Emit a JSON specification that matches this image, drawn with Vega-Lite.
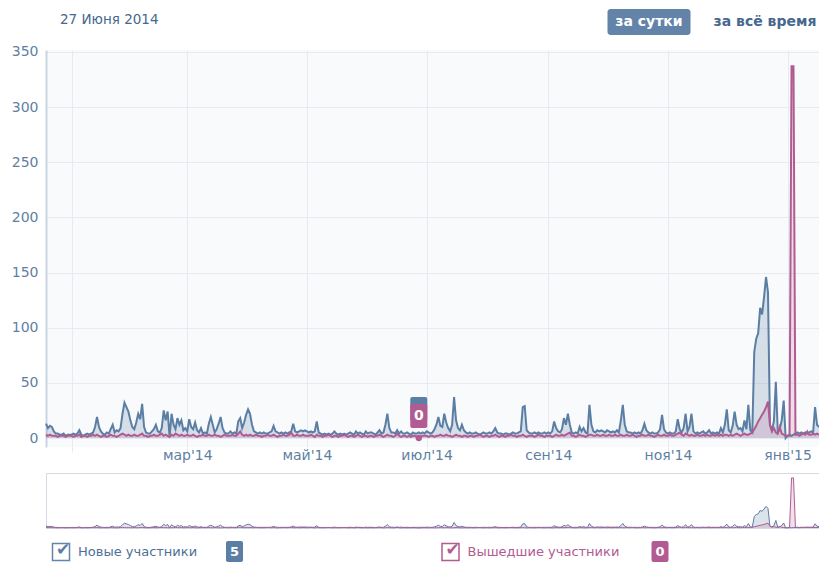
{
"$schema":"https://vega.github.io/schema/vega-lite/v6.json",
"padding":0,
"background":"white",
"spacing":26,
"bounds":"flush",
"config":{"font":"DejaVu Sans","view":{"stroke":null}},
"datasets":{
"daily":[
{"d":"2013-12-19","n":13,"o":3},{"d":"2013-12-20","n":9,"o":2},{"d":"2013-12-21","n":11,"o":3},{"d":"2013-12-22","n":10,"o":2},{"d":"2013-12-23","n":6,"o":2},{"d":"2013-12-24","n":4,"o":2},{"d":"2013-12-25","n":4,"o":1},{"d":"2013-12-26","n":3,"o":2},{"d":"2013-12-27","n":3,"o":2},{"d":"2013-12-28","n":4,"o":2},{"d":"2013-12-29","n":2,"o":1},{"d":"2013-12-30","n":3,"o":2},{"d":"2013-12-31","n":3,"o":2},
{"d":"2014-01-01","n":3,"o":2},{"d":"2014-01-02","n":4,"o":1},{"d":"2014-01-03","n":3,"o":2},{"d":"2014-01-04","n":4,"o":2},{"d":"2014-01-05","n":7,"o":3},{"d":"2014-01-06","n":3,"o":1},{"d":"2014-01-07","n":2,"o":2},{"d":"2014-01-08","n":3,"o":2},{"d":"2014-01-09","n":4,"o":1},{"d":"2014-01-10","n":3,"o":2},{"d":"2014-01-11","n":4,"o":2},{"d":"2014-01-12","n":5,"o":3},{"d":"2014-01-13","n":10,"o":2},{"d":"2014-01-14","n":19,"o":3},{"d":"2014-01-15","n":10,"o":2},{"d":"2014-01-16","n":6,"o":1},{"d":"2014-01-17","n":4,"o":2},{"d":"2014-01-18","n":3,"o":2},{"d":"2014-01-19","n":5,"o":1},{"d":"2014-01-20","n":4,"o":2},{"d":"2014-01-21","n":8,"o":3},{"d":"2014-01-22","n":12,"o":2},{"d":"2014-01-23","n":5,"o":2},{"d":"2014-01-24","n":7,"o":1},{"d":"2014-01-25","n":6,"o":2},{"d":"2014-01-26","n":9,"o":3},{"d":"2014-01-27","n":22,"o":4},{"d":"2014-01-28","n":32,"o":3},{"d":"2014-01-29","n":28,"o":2},{"d":"2014-01-30","n":24,"o":3},{"d":"2014-01-31","n":16,"o":2},
{"d":"2014-02-01","n":10,"o":2},{"d":"2014-02-02","n":8,"o":3},{"d":"2014-02-03","n":14,"o":2},{"d":"2014-02-04","n":22,"o":2},{"d":"2014-02-05","n":17,"o":3},{"d":"2014-02-06","n":31,"o":4},{"d":"2014-02-07","n":10,"o":2},{"d":"2014-02-08","n":5,"o":2},{"d":"2014-02-09","n":4,"o":1},{"d":"2014-02-10","n":4,"o":2},{"d":"2014-02-11","n":6,"o":2},{"d":"2014-02-12","n":8,"o":3},{"d":"2014-02-13","n":12,"o":2},{"d":"2014-02-14","n":6,"o":2},{"d":"2014-02-15","n":5,"o":3},{"d":"2014-02-16","n":9,"o":4},{"d":"2014-02-17","n":25,"o":2},{"d":"2014-02-18","n":16,"o":3},{"d":"2014-02-19","n":24,"o":2},{"d":"2014-02-20","n":1,"o":1},{"d":"2014-02-21","n":22,"o":3},{"d":"2014-02-22","n":12,"o":2},{"d":"2014-02-23","n":8,"o":4},{"d":"2014-02-24","n":18,"o":3},{"d":"2014-02-25","n":12,"o":2},{"d":"2014-02-26","n":16,"o":3},{"d":"2014-02-27","n":7,"o":2},{"d":"2014-02-28","n":9,"o":2},
{"d":"2014-03-01","n":6,"o":3},{"d":"2014-03-02","n":17,"o":2},{"d":"2014-03-03","n":10,"o":2},{"d":"2014-03-04","n":8,"o":3},{"d":"2014-03-05","n":14,"o":2},{"d":"2014-03-06","n":7,"o":1},{"d":"2014-03-07","n":5,"o":2},{"d":"2014-03-08","n":9,"o":2},{"d":"2014-03-09","n":4,"o":3},{"d":"2014-03-10","n":5,"o":2},{"d":"2014-03-11","n":4,"o":2},{"d":"2014-03-12","n":13,"o":3},{"d":"2014-03-13","n":19,"o":2},{"d":"2014-03-14","n":12,"o":2},{"d":"2014-03-15","n":5,"o":3},{"d":"2014-03-16","n":8,"o":2},{"d":"2014-03-17","n":13,"o":2},{"d":"2014-03-18","n":19,"o":1},{"d":"2014-03-19","n":9,"o":2},{"d":"2014-03-20","n":5,"o":3},{"d":"2014-03-21","n":4,"o":2},{"d":"2014-03-22","n":4,"o":2},{"d":"2014-03-23","n":6,"o":2},{"d":"2014-03-24","n":4,"o":3},{"d":"2014-03-25","n":5,"o":2},{"d":"2014-03-26","n":4,"o":2},{"d":"2014-03-27","n":15,"o":4},{"d":"2014-03-28","n":18,"o":6},{"d":"2014-03-29","n":9,"o":3},{"d":"2014-03-30","n":14,"o":2},{"d":"2014-03-31","n":21,"o":3},
{"d":"2014-04-01","n":26,"o":2},{"d":"2014-04-02","n":22,"o":3},{"d":"2014-04-03","n":12,"o":2},{"d":"2014-04-04","n":6,"o":2},{"d":"2014-04-05","n":5,"o":3},{"d":"2014-04-06","n":4,"o":2},{"d":"2014-04-07","n":5,"o":2},{"d":"2014-04-08","n":4,"o":1},{"d":"2014-04-09","n":5,"o":2},{"d":"2014-04-10","n":4,"o":2},{"d":"2014-04-11","n":4,"o":3},{"d":"2014-04-12","n":5,"o":2},{"d":"2014-04-13","n":6,"o":2},{"d":"2014-04-14","n":11,"o":3},{"d":"2014-04-15","n":6,"o":2},{"d":"2014-04-16","n":5,"o":1},{"d":"2014-04-17","n":4,"o":2},{"d":"2014-04-18","n":5,"o":2},{"d":"2014-04-19","n":4,"o":3},{"d":"2014-04-20","n":5,"o":2},{"d":"2014-04-21","n":4,"o":2},{"d":"2014-04-22","n":5,"o":3},{"d":"2014-04-23","n":6,"o":5},{"d":"2014-04-24","n":13,"o":2},{"d":"2014-04-25","n":6,"o":2},{"d":"2014-04-26","n":5,"o":3},{"d":"2014-04-27","n":6,"o":2},{"d":"2014-04-28","n":7,"o":2},{"d":"2014-04-29","n":6,"o":3},{"d":"2014-04-30","n":7,"o":2},
{"d":"2014-05-01","n":6,"o":2},{"d":"2014-05-02","n":5,"o":2},{"d":"2014-05-03","n":6,"o":3},{"d":"2014-05-04","n":5,"o":2},{"d":"2014-05-05","n":6,"o":1},{"d":"2014-05-06","n":15,"o":3},{"d":"2014-05-07","n":5,"o":2},{"d":"2014-05-08","n":4,"o":2},{"d":"2014-05-09","n":3,"o":1},{"d":"2014-05-10","n":4,"o":2},{"d":"2014-05-11","n":3,"o":2},{"d":"2014-05-12","n":4,"o":3},{"d":"2014-05-13","n":3,"o":2},{"d":"2014-05-14","n":4,"o":1},{"d":"2014-05-15","n":6,"o":2},{"d":"2014-05-16","n":4,"o":2},{"d":"2014-05-17","n":3,"o":1},{"d":"2014-05-18","n":4,"o":2},{"d":"2014-05-19","n":3,"o":2},{"d":"2014-05-20","n":4,"o":3},{"d":"2014-05-21","n":3,"o":2},{"d":"2014-05-22","n":4,"o":1},{"d":"2014-05-23","n":5,"o":2},{"d":"2014-05-24","n":4,"o":2},{"d":"2014-05-25","n":3,"o":1},{"d":"2014-05-26","n":6,"o":2},{"d":"2014-05-27","n":4,"o":3},{"d":"2014-05-28","n":5,"o":2},{"d":"2014-05-29","n":4,"o":1},{"d":"2014-05-30","n":3,"o":2},{"d":"2014-05-31","n":6,"o":2},
{"d":"2014-06-01","n":4,"o":1},{"d":"2014-06-02","n":5,"o":2},{"d":"2014-06-03","n":5,"o":2},{"d":"2014-06-04","n":4,"o":1},{"d":"2014-06-05","n":3,"o":2},{"d":"2014-06-06","n":5,"o":2},{"d":"2014-06-07","n":7,"o":3},{"d":"2014-06-08","n":4,"o":2},{"d":"2014-06-09","n":5,"o":1},{"d":"2014-06-10","n":12,"o":2},{"d":"2014-06-11","n":22,"o":3},{"d":"2014-06-12","n":9,"o":2},{"d":"2014-06-13","n":5,"o":2},{"d":"2014-06-14","n":5,"o":1},{"d":"2014-06-15","n":4,"o":2},{"d":"2014-06-16","n":7,"o":4},{"d":"2014-06-17","n":4,"o":2},{"d":"2014-06-18","n":6,"o":1},{"d":"2014-06-19","n":4,"o":2},{"d":"2014-06-20","n":4,"o":2},{"d":"2014-06-21","n":5,"o":1},{"d":"2014-06-22","n":4,"o":2},{"d":"2014-06-23","n":3,"o":1},{"d":"2014-06-24","n":5,"o":2},{"d":"2014-06-25","n":4,"o":2},{"d":"2014-06-26","n":4,"o":1},{"d":"2014-06-27","n":5,"o":0},{"d":"2014-06-28","n":4,"o":1},{"d":"2014-06-29","n":5,"o":2},{"d":"2014-06-30","n":4,"o":2},
{"d":"2014-07-01","n":6,"o":2},{"d":"2014-07-02","n":5,"o":1},{"d":"2014-07-03","n":4,"o":2},{"d":"2014-07-04","n":5,"o":2},{"d":"2014-07-05","n":8,"o":1},{"d":"2014-07-06","n":12,"o":2},{"d":"2014-07-07","n":19,"o":2},{"d":"2014-07-08","n":11,"o":3},{"d":"2014-07-09","n":10,"o":2},{"d":"2014-07-10","n":22,"o":2},{"d":"2014-07-11","n":14,"o":3},{"d":"2014-07-12","n":9,"o":2},{"d":"2014-07-13","n":6,"o":2},{"d":"2014-07-14","n":12,"o":1},{"d":"2014-07-15","n":37,"o":2},{"d":"2014-07-16","n":16,"o":3},{"d":"2014-07-17","n":9,"o":2},{"d":"2014-07-18","n":7,"o":2},{"d":"2014-07-19","n":12,"o":1},{"d":"2014-07-20","n":7,"o":2},{"d":"2014-07-21","n":5,"o":2},{"d":"2014-07-22","n":4,"o":1},{"d":"2014-07-23","n":5,"o":2},{"d":"2014-07-24","n":4,"o":2},{"d":"2014-07-25","n":4,"o":1},{"d":"2014-07-26","n":5,"o":2},{"d":"2014-07-27","n":4,"o":2},{"d":"2014-07-28","n":3,"o":3},{"d":"2014-07-29","n":4,"o":2},{"d":"2014-07-30","n":5,"o":1},{"d":"2014-07-31","n":4,"o":2},
{"d":"2014-08-01","n":4,"o":2},{"d":"2014-08-02","n":5,"o":1},{"d":"2014-08-03","n":4,"o":2},{"d":"2014-08-04","n":6,"o":2},{"d":"2014-08-05","n":9,"o":3},{"d":"2014-08-06","n":5,"o":2},{"d":"2014-08-07","n":4,"o":1},{"d":"2014-08-08","n":4,"o":2},{"d":"2014-08-09","n":3,"o":2},{"d":"2014-08-10","n":4,"o":1},{"d":"2014-08-11","n":4,"o":2},{"d":"2014-08-12","n":3,"o":2},{"d":"2014-08-13","n":4,"o":3},{"d":"2014-08-14","n":5,"o":2},{"d":"2014-08-15","n":4,"o":2},{"d":"2014-08-16","n":4,"o":1},{"d":"2014-08-17","n":5,"o":2},{"d":"2014-08-18","n":6,"o":2},{"d":"2014-08-19","n":28,"o":3},{"d":"2014-08-20","n":29,"o":2},{"d":"2014-08-21","n":7,"o":1},{"d":"2014-08-22","n":5,"o":2},{"d":"2014-08-23","n":4,"o":2},{"d":"2014-08-24","n":4,"o":2},{"d":"2014-08-25","n":5,"o":1},{"d":"2014-08-26","n":4,"o":2},{"d":"2014-08-27","n":5,"o":3},{"d":"2014-08-28","n":4,"o":2},{"d":"2014-08-29","n":4,"o":2},{"d":"2014-08-30","n":5,"o":1},{"d":"2014-08-31","n":4,"o":2},
{"d":"2014-09-01","n":5,"o":2},{"d":"2014-09-02","n":4,"o":2},{"d":"2014-09-03","n":6,"o":1},{"d":"2014-09-04","n":15,"o":2},{"d":"2014-09-05","n":9,"o":3},{"d":"2014-09-06","n":6,"o":2},{"d":"2014-09-07","n":5,"o":2},{"d":"2014-09-08","n":8,"o":3},{"d":"2014-09-09","n":18,"o":2},{"d":"2014-09-10","n":12,"o":3},{"d":"2014-09-11","n":22,"o":4},{"d":"2014-09-12","n":12,"o":5},{"d":"2014-09-13","n":5,"o":2},{"d":"2014-09-14","n":4,"o":2},{"d":"2014-09-15","n":5,"o":1},{"d":"2014-09-16","n":4,"o":2},{"d":"2014-09-17","n":10,"o":3},{"d":"2014-09-18","n":6,"o":2},{"d":"2014-09-19","n":9,"o":2},{"d":"2014-09-20","n":5,"o":1},{"d":"2014-09-21","n":4,"o":2},{"d":"2014-09-22","n":30,"o":3},{"d":"2014-09-23","n":12,"o":3},{"d":"2014-09-24","n":6,"o":2},{"d":"2014-09-25","n":5,"o":2},{"d":"2014-09-26","n":7,"o":3},{"d":"2014-09-27","n":6,"o":2},{"d":"2014-09-28","n":7,"o":2},{"d":"2014-09-29","n":6,"o":3},{"d":"2014-09-30","n":5,"o":2},
{"d":"2014-10-01","n":7,"o":2},{"d":"2014-10-02","n":6,"o":3},{"d":"2014-10-03","n":5,"o":2},{"d":"2014-10-04","n":6,"o":2},{"d":"2014-10-05","n":5,"o":3},{"d":"2014-10-06","n":7,"o":2},{"d":"2014-10-07","n":5,"o":2},{"d":"2014-10-08","n":16,"o":3},{"d":"2014-10-09","n":30,"o":2},{"d":"2014-10-10","n":12,"o":2},{"d":"2014-10-11","n":6,"o":3},{"d":"2014-10-12","n":5,"o":2},{"d":"2014-10-13","n":5,"o":2},{"d":"2014-10-14","n":4,"o":3},{"d":"2014-10-15","n":5,"o":2},{"d":"2014-10-16","n":4,"o":1},{"d":"2014-10-17","n":5,"o":2},{"d":"2014-10-18","n":4,"o":2},{"d":"2014-10-19","n":7,"o":3},{"d":"2014-10-20","n":13,"o":2},{"d":"2014-10-21","n":7,"o":2},{"d":"2014-10-22","n":5,"o":3},{"d":"2014-10-23","n":4,"o":2},{"d":"2014-10-24","n":5,"o":2},{"d":"2014-10-25","n":4,"o":1},{"d":"2014-10-26","n":4,"o":2},{"d":"2014-10-27","n":5,"o":3},{"d":"2014-10-28","n":8,"o":2},{"d":"2014-10-29","n":21,"o":2},{"d":"2014-10-30","n":8,"o":3},{"d":"2014-10-31","n":5,"o":2},
{"d":"2014-11-01","n":4,"o":2},{"d":"2014-11-02","n":5,"o":3},{"d":"2014-11-03","n":4,"o":2},{"d":"2014-11-04","n":4,"o":2},{"d":"2014-11-05","n":6,"o":3},{"d":"2014-11-06","n":17,"o":4},{"d":"2014-11-07","n":8,"o":5},{"d":"2014-11-08","n":5,"o":3},{"d":"2014-11-09","n":9,"o":2},{"d":"2014-11-10","n":22,"o":4},{"d":"2014-11-11","n":6,"o":3},{"d":"2014-11-12","n":10,"o":2},{"d":"2014-11-13","n":22,"o":3},{"d":"2014-11-14","n":6,"o":2},{"d":"2014-11-15","n":4,"o":2},{"d":"2014-11-16","n":5,"o":3},{"d":"2014-11-17","n":4,"o":2},{"d":"2014-11-18","n":5,"o":2},{"d":"2014-11-19","n":6,"o":3},{"d":"2014-11-20","n":4,"o":2},{"d":"2014-11-21","n":5,"o":3},{"d":"2014-11-22","n":7,"o":2},{"d":"2014-11-23","n":4,"o":2},{"d":"2014-11-24","n":5,"o":3},{"d":"2014-11-25","n":4,"o":2},{"d":"2014-11-26","n":5,"o":3},{"d":"2014-11-27","n":4,"o":2},{"d":"2014-11-28","n":9,"o":3},{"d":"2014-11-29","n":5,"o":2},{"d":"2014-11-30","n":12,"o":3},
{"d":"2014-12-01","n":26,"o":3},{"d":"2014-12-02","n":7,"o":2},{"d":"2014-12-03","n":5,"o":3},{"d":"2014-12-04","n":11,"o":2},{"d":"2014-12-05","n":24,"o":3},{"d":"2014-12-06","n":12,"o":4},{"d":"2014-12-07","n":8,"o":3},{"d":"2014-12-08","n":9,"o":2},{"d":"2014-12-09","n":6,"o":3},{"d":"2014-12-10","n":16,"o":4},{"d":"2014-12-11","n":8,"o":3},{"d":"2014-12-12","n":30,"o":3},{"d":"2014-12-13","n":7,"o":4},{"d":"2014-12-14","n":5,"o":5},{"d":"2014-12-15","n":78,"o":8},{"d":"2014-12-16","n":90,"o":11},{"d":"2014-12-17","n":95,"o":15},{"d":"2014-12-18","n":118,"o":18},{"d":"2014-12-19","n":112,"o":21},{"d":"2014-12-20","n":128,"o":24},{"d":"2014-12-21","n":146,"o":28},{"d":"2014-12-22","n":132,"o":33},{"d":"2014-12-23","n":12,"o":12},{"d":"2014-12-24","n":7,"o":6},{"d":"2014-12-25","n":15,"o":9},{"d":"2014-12-26","n":51,"o":5},{"d":"2014-12-27","n":5,"o":4},{"d":"2014-12-28","n":8,"o":10},{"d":"2014-12-29","n":16,"o":4},{"d":"2014-12-30","n":34,"o":3},{"d":"2014-12-31","n":0,"o":2},
{"d":"2015-01-01","n":2,"o":2},{"d":"2015-01-02","n":3,"o":2},{"d":"2015-01-03","n":2,"o":337},{"d":"2015-01-04","n":3,"o":337},{"d":"2015-01-05","n":4,"o":3},{"d":"2015-01-06","n":5,"o":3},{"d":"2015-01-07","n":4,"o":2},{"d":"2015-01-08","n":5,"o":3},{"d":"2015-01-09","n":4,"o":4},{"d":"2015-01-10","n":5,"o":3},{"d":"2015-01-11","n":4,"o":6},{"d":"2015-01-12","n":5,"o":3},{"d":"2015-01-13","n":6,"o":3},{"d":"2015-01-14","n":5,"o":4},{"d":"2015-01-15","n":28,"o":3},{"d":"2015-01-16","n":12,"o":4},{"d":"2015-01-17","n":10,"o":3}
],
"hover":[{"d":"2014-06-27","n":5,"o":0}],
"header":[{"t":"27 Июня 2014","k":"date"},{"t":"за сутки","k":"on"},{"t":"за всё время","k":"off"}],
"legenditems":[{"s":"new","label":"Новые участники","c":5},{"s":"left","label":"Вышедшие участники","c":0}]
},
"vconcat":[
{
"width":773,"height":24,
"data":{"name":"header"},
"layer":[
{"transform":[{"filter":"datum.k == 'date'"}],
"mark":{"type":"text","align":"left","baseline":"middle","fontSize":13.5,"color":"#45688e","dy":8},
"encoding":{"x":{"field":"t","type":"nominal","scale":{"type":"point","domain":["27 Июня 2014"],"range":[14,14],"padding":0},"axis":null},"text":{"field":"t"}}},
{"transform":[{"filter":"datum.k == 'on'"}],
"mark":{"type":"point","shape":"M-0.928,-0.313H0.928A0.072,0.072,0,0,1,1,-0.241V0.241A0.072,0.072,0,0,1,0.928,0.313H-0.928A0.072,0.072,0,0,1,-1,0.241V-0.241A0.072,0.072,0,0,1,-0.928,-0.313Z","size":6889,"filled":true,"opacity":1,"fill":"#6383a8","strokeWidth":0,"yOffset":10},
"encoding":{"x":{"field":"t","type":"nominal","scale":{"type":"point","domain":["за сутки"],"range":[603,603],"padding":0},"axis":null}}},
{"transform":[{"filter":"datum.k != 'date'"}],
"mark":{"type":"text","fontSize":14,"fontWeight":"bold","baseline":"middle","dy":10},
"encoding":{"x":{"field":"t","type":"nominal","scale":{"type":"point","domain":["за сутки","за всё время"],"range":[603,719],"padding":0},"axis":null},"text":{"field":"t"},"color":{"condition":{"test":"datum.k == 'on'","value":"#ffffff"},"value":"#45688e"}}}
],
"resolve":{"scale":{"x":"independent"}}
},
{
"width":773,"height":397,
"view":{"fill":"#f9fafb","stroke":null},
"data":{"name":"daily"},
"encoding":{"x":{"field":"d","type":"temporal","scale":{"type":"utc","domain":[{"year":2013,"month":12,"date":19,"utc":true},{"year":2015,"month":1,"date":17,"utc":true}],"nice":false},
"axis":{"values":[{"year":2014,"month":1,"date":1,"utc":true},{"year":2014,"month":3,"date":1,"utc":true},{"year":2014,"month":5,"date":1,"utc":true},{"year":2014,"month":7,"date":1,"utc":true},{"year":2014,"month":9,"date":1,"utc":true},{"year":2014,"month":11,"date":1,"utc":true},{"year":2015,"month":1,"date":1,"utc":true}],
"title":null,"grid":true,"gridColor":"#e6ebf1","domain":false,"ticks":true,"tickColor":"#e6ebf1","tickSize":5,"labelPadding":-4,"labelColor":"#5e7fa3","labelFontSize":14,"labelBaseline":"top","minExtent":26,"maxExtent":26,
"labelExpr":"(utcyear(datum.value) == 2014 && utcmonth(datum.value) == 0) ? '' : ['янв','фев','мар','апр','май','июн','июл','авг','сен','окт','ноя','дек'][utcmonth(datum.value)] + \"'\" + utcFormat(datum.value, '%y')"}}},
"layer":[
{"mark":{"type":"area","color":"#5b7ea4","opacity":0.22},
"encoding":{"y":{"field":"n","type":"quantitative","scale":{"domain":[-8.16,351.8],"nice":false,"zero":false},
"axis":{"values":[0,50,100,150,200,250,300,350],"title":null,"grid":true,"gridColor":"#e6ebf1","domain":true,"domainColor":"#c9d5e2","domainWidth":2,"ticks":false,"labelPadding":8,"labelColor":"#5e7fa3","labelFontSize":14,"minExtent":46,"maxExtent":46}},"y2":{"datum":0}}},
{"mark":{"type":"area","color":"#b25b92","opacity":0.18},
"encoding":{"y":{"field":"o","type":"quantitative"},"y2":{"datum":0}}},
{"mark":{"type":"line","color":"#5b7ea4","strokeWidth":2},
"encoding":{"y":{"field":"n","type":"quantitative"}}},
{"mark":{"type":"line","color":"#b25b92","strokeWidth":2},
"encoding":{"y":{"field":"o","type":"quantitative"}}},
{"data":{"name":"hover"},
"mark":{"type":"point","shape":"M-0.542,-1H0.542A0.167,0.167,0,0,1,0.708,-0.833V0.833A0.167,0.167,0,0,1,0.542,1H-0.542A0.167,0.167,0,0,1,-0.708,0.833V-0.833A0.167,0.167,0,0,1,-0.542,-1Z","size":576,"filled":true,"opacity":1,"fill":"#5b7ea4","strokeWidth":0,"yOffset":-29},
"encoding":{"y":{"field":"o","type":"quantitative"}}},
{"data":{"name":"hover"},
"mark":{"type":"point","shape":"M-0.542,-1H0.542A0.167,0.167,0,0,1,0.708,-0.833V0.833A0.167,0.167,0,0,1,0.542,1H-0.542A0.167,0.167,0,0,1,-0.708,0.833V-0.833A0.167,0.167,0,0,1,-0.542,-1Z","size":576,"filled":true,"opacity":1,"fill":"#b25b92","strokeWidth":0,"yOffset":-22},
"encoding":{"y":{"field":"o","type":"quantitative"}}},
{"data":{"name":"hover"},
"mark":{"type":"text","color":"#ffffff","fontWeight":"bold","fontSize":14,"baseline":"middle","dy":-22},
"encoding":{"y":{"field":"o","type":"quantitative"},"text":{"field":"o","type":"quantitative"}}},
{"data":{"name":"hover"},
"mark":{"type":"point","shape":"circle","size":40,"filled":true,"opacity":1,"fill":"#b25b92","strokeWidth":0},
"encoding":{"y":{"field":"o","type":"quantitative"}}}
]
},
{
"width":773,"height":55,
"view":{"stroke":"#d3dbe4","strokeWidth":1,"fill":null},
"data":{"name":"daily"},
"encoding":{"x":{"field":"d","type":"temporal","scale":{"type":"utc","domain":[{"year":2013,"month":12,"date":19,"utc":true},{"year":2015,"month":1,"date":17,"utc":true}],"nice":false},"axis":null}},
"layer":[
{"mark":{"type":"area","color":"#5b7ea4","opacity":0.22},
"encoding":{"y":{"field":"n","type":"quantitative","scale":{"domain":[0,370],"nice":false},"axis":null},"y2":{"datum":0}}},
{"mark":{"type":"area","color":"#b25b92","opacity":0.18},
"encoding":{"y":{"field":"o","type":"quantitative"},"y2":{"datum":0}}},
{"mark":{"type":"line","color":"#5b7ea4","strokeWidth":1},
"encoding":{"y":{"field":"n","type":"quantitative"}}},
{"mark":{"type":"line","color":"#b25b92","strokeWidth":1},
"encoding":{"y":{"field":"o","type":"quantitative"}}}
]
},
{
"width":773,"height":8,
"data":{"name":"legenditems"},
"encoding":{"x":{"field":"s","type":"nominal","scale":{"type":"point","domain":["new","left"],"range":[15,404.5],"padding":0},"axis":null}},
"layer":[
{"mark":{"type":"point","shape":"square","size":289,"filled":false,"strokeWidth":1.5,"opacity":1,"yOffset":-6},
"encoding":{"stroke":{"condition":{"test":"datum.s == 'left'","value":"#b25b92"},"value":"#6485aa"}}},
{"mark":{"type":"text","text":"✔","fontSize":17,"dx":2,"dy":-8,"baseline":"middle"},
"encoding":{"color":{"condition":{"test":"datum.s == 'left'","value":"#b25b92"},"value":"#5b7ea4"}}},
{"mark":{"type":"text","align":"left","baseline":"middle","fontSize":13,"dx":17,"dy":-6},
"encoding":{"text":{"field":"label"},"color":{"condition":{"test":"datum.s == 'left'","value":"#b25b92"},"value":"#4f6f94"}}},
{"transform":[{"filter":"datum.s == 'new'"}],
"mark":{"type":"point","shape":"M-0.62,-1H0.62A0.19,0.19,0,0,1,0.81,-0.81V0.81A0.19,0.19,0,0,1,0.62,1H-0.62A0.19,0.19,0,0,1,-0.81,0.81V-0.81A0.19,0.19,0,0,1,-0.62,-1Z","size":441,"filled":true,"opacity":1,"strokeWidth":0,"fill":"#5b7ea4","xOffset":173.5,"yOffset":-6.5}},
{"transform":[{"filter":"datum.s == 'new'"}],
"mark":{"type":"text","fontSize":13,"fontWeight":"bold","color":"#ffffff","baseline":"middle","dx":173.5,"dy":-6},
"encoding":{"text":{"field":"c","type":"quantitative"}}},
{"transform":[{"filter":"datum.s == 'left'"}],
"mark":{"type":"point","shape":"M-0.62,-1H0.62A0.19,0.19,0,0,1,0.81,-0.81V0.81A0.19,0.19,0,0,1,0.62,1H-0.62A0.19,0.19,0,0,1,-0.81,0.81V-0.81A0.19,0.19,0,0,1,-0.62,-1Z","size":441,"filled":true,"opacity":1,"strokeWidth":0,"fill":"#b25b92","xOffset":209.5,"yOffset":-6.5}},
{"transform":[{"filter":"datum.s == 'left'"}],
"mark":{"type":"text","fontSize":13,"fontWeight":"bold","color":"#ffffff","baseline":"middle","dx":209.5,"dy":-6},
"encoding":{"text":{"field":"c","type":"quantitative"}}}
]
}
]
}
